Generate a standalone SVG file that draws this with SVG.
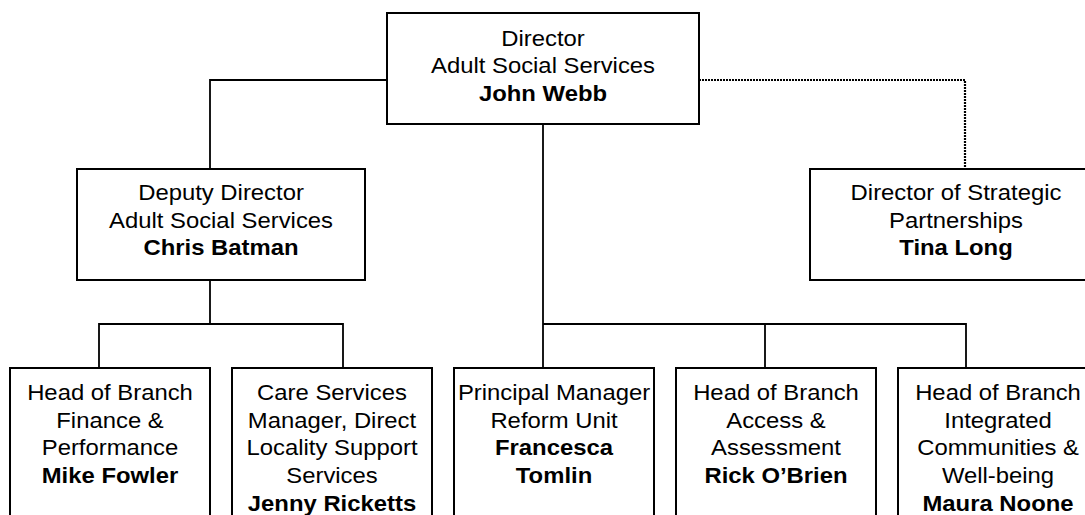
<svg xmlns="http://www.w3.org/2000/svg" width="1085" height="515" viewBox="0 0 1085 515">
<style>
.box{fill:#fff;stroke:#000;stroke-width:2}
.ln{fill:none;stroke:#000;stroke-width:1.8}
.dot{fill:none;stroke:#000;stroke-width:2.2;stroke-dasharray:2 1}
text{font-family:"Liberation Sans",Arial,sans-serif;font-size:21.3px;fill:#000;text-anchor:middle}
.b{font-weight:bold}
</style>
<rect width="1085" height="515" fill="#fff"/>
<g id="connectors">
<polyline class="ln" points="387,80 210,80 210,169"/>
<polyline class="dot" points="699,80 965,80 965,169"/>
<line class="ln" x1="543" y1="124" x2="543" y2="368"/>
<polyline class="ln" points="543,324 966,324 966,368"/>
<line class="ln" x1="765" y1="324" x2="765" y2="368"/>
<line class="ln" x1="210" y1="280" x2="210" y2="324"/>
<polyline class="ln" points="99,368 99,324 343,324 343,368"/>
</g>
<g id="director">
<rect class="box" x="387" y="13" width="312" height="111"/>
<g transform="translate(543 0) scale(1.12 1)">
<text x="0" y="46">Director</text>
<text x="0" y="73.5">Adult Social Services</text>
<text x="0" y="100.7" class="b">John Webb</text>
</g>
</g>
<g id="deputy">
<rect class="box" x="77" y="169" width="288" height="111"/>
<g transform="translate(221 0) scale(1.12 1)">
<text x="0" y="200">Deputy Director</text>
<text x="0" y="228">Adult Social Services</text>
<text x="0" y="255.5" class="b">Chris Batman</text>
</g>
</g>
<g id="strategic">
<rect class="box" x="810" y="169" width="292" height="111"/>
<g transform="translate(956 0) scale(1.12 1)">
<text x="0" y="200">Director of Strategic</text>
<text x="0" y="228">Partnerships</text>
<text x="0" y="255.5" class="b">Tina Long</text>
</g>
</g>
<g id="finance">
<rect class="box" x="10" y="368" width="200" height="170"/>
<g transform="translate(110 0) scale(1.12 1)">
<text x="0" y="400">Head of Branch</text>
<text x="0" y="428">Finance &amp;</text>
<text x="0" y="455.5">Performance</text>
<text x="0" y="483" class="b">Mike Fowler</text>
</g>
</g>
<g id="care">
<rect class="box" x="232" y="368" width="200" height="170"/>
<g transform="translate(332 0) scale(1.12 1)">
<text x="0" y="400">Care Services</text>
<text x="0" y="428">Manager, Direct</text>
<text x="0" y="455.5">Locality Support</text>
<text x="0" y="483">Services</text>
<text x="0" y="510.8" class="b">Jenny Ricketts</text>
</g>
</g>
<g id="reform">
<rect class="box" x="454" y="368" width="200" height="170"/>
<g transform="translate(554 0) scale(1.12 1)">
<text x="0" y="400">Principal Manager</text>
<text x="0" y="428">Reform Unit</text>
<text x="0" y="455.5" class="b">Francesca</text>
<text x="0" y="483" class="b">Tomlin</text>
</g>
</g>
<g id="access">
<rect class="box" x="676" y="368" width="200" height="170"/>
<g transform="translate(776 0) scale(1.12 1)">
<text x="0" y="400">Head of Branch</text>
<text x="0" y="428">Access &amp;</text>
<text x="0" y="455.5">Assessment</text>
<text x="0" y="483" class="b">Rick O’Brien</text>
</g>
</g>
<g id="communities">
<rect class="box" x="898" y="368" width="200" height="170"/>
<g transform="translate(998 0) scale(1.12 1)">
<text x="0" y="400">Head of Branch</text>
<text x="0" y="428">Integrated</text>
<text x="0" y="455.5">Communities &amp;</text>
<text x="0" y="483">Well-being</text>
<text x="0" y="510.8" class="b">Maura Noone</text>
</g>
</g>
</svg>
